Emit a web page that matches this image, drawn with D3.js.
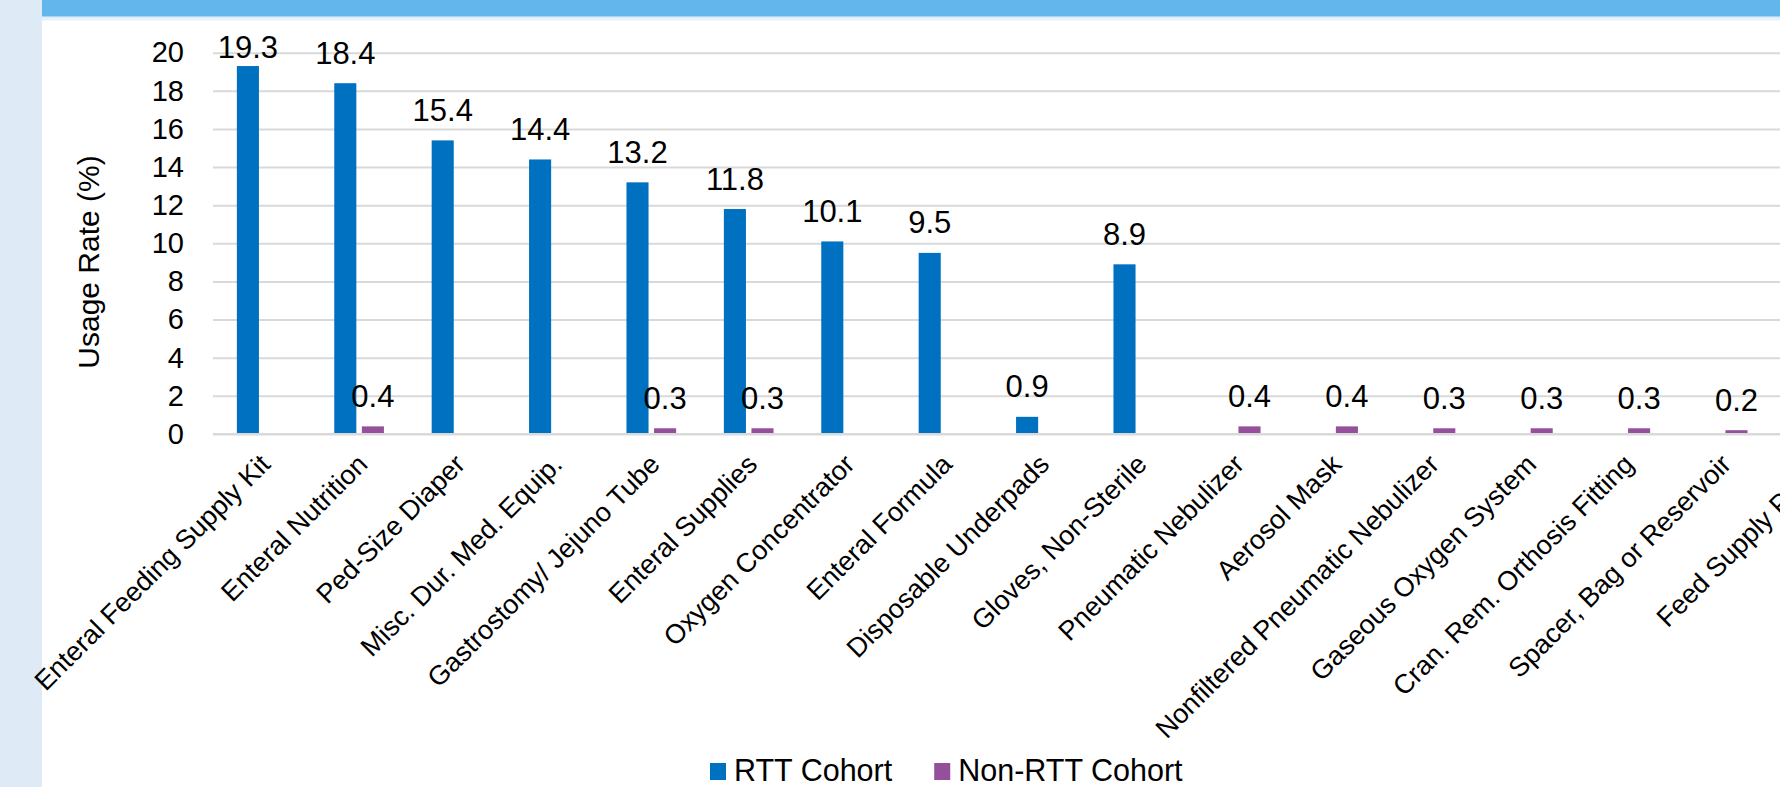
<!DOCTYPE html>
<html>
<head>
<meta charset="utf-8">
<script src="https://cdn.jsdelivr.net/npm/d3@7"></script>
<style>
  html, body { margin: 0; padding: 0; background: #ffffff; overflow: hidden; }
  svg { display: block; font-family: "Liberation Sans", Arial, sans-serif; }
</style>
</head>
<body>
<svg id="chart" width="1900" height="787"></svg>
<script>
// Durable medical equipment usage rates by cohort
const categories = [
  "Enteral Feeding Supply Kit",
  "Enteral Nutrition",
  "Ped-Size Diaper",
  "Misc. Dur. Med. Equip.",
  "Gastrostomy/ Jejuno Tube",
  "Enteral Supplies",
  "Oxygen Concentrator",
  "Enteral Formula",
  "Disposable Underpads",
  "Gloves, Non-Sterile",
  "Pneumatic Nebulizer",
  "Aerosol Mask",
  "Nonfiltered Pneumatic Nebulizer",
  "Gaseous Oxygen System",
  "Cran. Rem. Orthosis Fitting",
  "Spacer, Bag or Reservoir",
  "Feed Supply Pump"
];
const rttValues    = [19.3, 18.4, 15.4, 14.4, 13.2, 11.8, 10.1, 9.5, 0.9, 8.9, null, null, null, null, null, null, null];
const nonRttValues = [null, 0.4, null, null, 0.3, 0.3, null, null, null, null, 0.4, 0.4, 0.3, 0.3, 0.3, 0.2, 0.2];
const seriesNames  = ["RTT Cohort", "Non-RTT Cohort"];
const seriesColors = ["#0070c0", "#94509a"];
const yTicks = [0, 2, 4, 6, 8, 10, 12, 14, 16, 18, 20];
const yTitle = "Usage Rate (%)";

const svg = d3.select("#chart");
const W = 1900;

// page furniture: side strip and header band
svg.append("rect").attr("x", 0).attr("y", 0).attr("width", 42).attr("height", 787).attr("fill", "#deeaf6");
svg.append("rect").attr("x", 42).attr("y", 0).attr("width", W - 42).attr("height", 16).attr("fill", "#63b6ec");
svg.append("rect").attr("x", 42).attr("y", 16).attr("width", W - 42).attr("height", 1.5).attr("fill", "#a6d4f4");
svg.append("rect").attr("x", 42).attr("y", 17.5).attr("width", W - 42).attr("height", 3).attr("fill", "#e6f1fb");

const plotLeft = 213, step = 97.4;
const plotRight = plotLeft + step * categories.length;
const y = d3.scaleLinear().domain([0, 20]).range([434, 52.7]);

const x0 = d3.scaleBand().domain(categories).range([plotLeft, plotRight])
  .paddingInner(0.49).paddingOuter(0.245);
const x1 = d3.scaleBand().domain(["rtt", "non"]).range([0, x0.bandwidth()]).paddingInner(0.2);

// value axis with gridlines
const yAxis = svg.append("g")
  .attr("transform", `translate(${plotLeft},0)`)
  .call(d3.axisLeft(y).tickValues(yTicks).tickSizeInner(-(plotRight - plotLeft)).tickSizeOuter(0).tickPadding(29));
yAxis.select(".domain").remove();
yAxis.selectAll(".tick line").attr("stroke", "#d9d9d9").attr("stroke-width", 2);
yAxis.selectAll(".tick text").attr("font-size", 29).attr("fill", "#000").attr("font-family", "Liberation Sans, Arial, sans-serif");

svg.append("text")
  .attr("transform", "translate(91,262) rotate(-90)")
  .attr("text-anchor", "middle").attr("dominant-baseline", "middle")
  .attr("font-size", 30).attr("fill", "#000")
  .text(yTitle);

// category axis
const xAxis = svg.append("g")
  .attr("transform", `translate(0,${y(0)})`)
  .call(d3.axisBottom(x0).tickSize(0));
xAxis.select(".domain").remove();
xAxis.selectAll(".tick text")
  .attr("font-size", 27).attr("fill", "#000").attr("font-family", "Liberation Sans, Arial, sans-serif")
  .attr("text-anchor", "end").attr("x", 0).attr("y", 0).attr("dy", 0)
  .attr("transform", "translate(10,32) rotate(-45)");

// bars
const rows = categories.map((c, i) => ({ cat: c, rtt: rttValues[i], non: nonRttValues[i] }));
const keys = ["rtt", "non"];
const groups = svg.append("g").selectAll("g").data(rows).join("g")
  .attr("transform", d => `translate(${x0(d.cat)},0)`);

const cells = groups.selectAll("g").data(d => keys.map((k, j) => ({ key: k, value: d[k], color: seriesColors[j] })).filter(e => e.value != null))
  .join("g");

cells.append("rect")
  .attr("x", e => x1(e.key))
  .attr("width", x1.bandwidth())
  .attr("y", e => y(e.value))
  .attr("height", e => y(0) - y(e.value))
  .attr("fill", e => e.color);

// value labels, held inside the chart area
const labelTop = 58.3;
cells.append("text")
  .attr("x", e => x1(e.key) + x1.bandwidth() / 2)
  .attr("y", e => Math.max(y(e.value) - 19.5, labelTop))
  .attr("text-anchor", "middle")
  .attr("font-size", 31).attr("fill", "#000")
  .text(e => e.value.toFixed(1));

// baseline
svg.append("line").attr("x1", plotLeft).attr("x2", plotRight).attr("y1", y(0)).attr("y2", y(0))
  .attr("stroke", "#d9d9d9").attr("stroke-width", 2);

// legend
const legend = svg.append("g");
let lx = 710;
seriesNames.forEach((name, j) => {
  legend.append("rect").attr("x", lx).attr("y", 763).attr("width", 16).attr("height", 17).attr("fill", seriesColors[j]);
  const t = legend.append("text").attr("x", lx + 24).attr("y", 780.5)
    .attr("font-size", 30.5).attr("fill", "#000").text(name);
  lx = lx + 24 + t.node().getComputedTextLength() + 42;
});
</script>
</body>
</html>
